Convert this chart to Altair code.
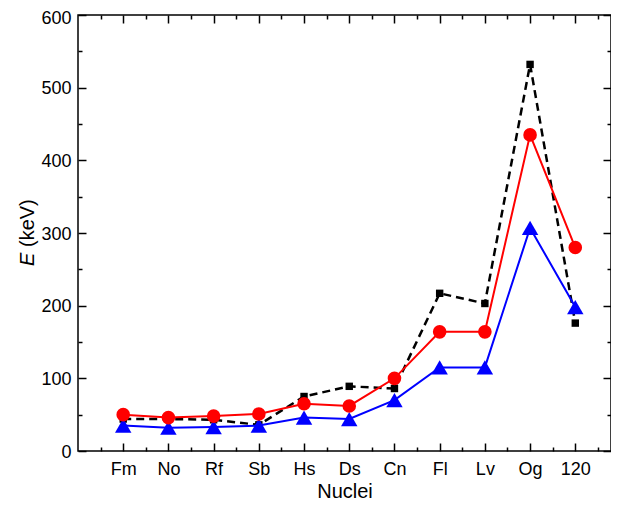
import altair as alt
import pandas as pd

nuclei = ["Fm", "No", "Rf", "Sb", "Hs", "Ds", "Cn", "Fl", "Lv", "Og", "120"]
positions = list(range(1, 12))
black_vals = [44, 44, 43, 36, 75, 89, 86, 217, 203, 532, 176]
red_vals = [50, 46, 48, 51, 65, 62, 100, 164, 164, 435, 280]
blue_vals = [35, 32, 33, 35, 46, 44, 70, 115, 115, 307, 198]
y_major = list(range(0, 601, 100))
y_labels_low = list(range(0, 501, 100))
y_labels_top = [600]
y_minor = list(range(50, 600, 100))
x_minor = [i + 0.5 for i in range(0, 12)]

W, H = 533, 436
XMAX = 11.79
FONT = "Liberation Sans"

df = pd.DataFrame({"pos": positions, "nucleus": nuclei,
                   "black": black_vals, "red": red_vals, "blue": blue_vals})

xs = alt.Scale(domain=[0, XMAX], nice=False, zero=False)
ys = alt.Scale(domain=[0, 600], nice=False, zero=False)

label_expr = "[" + ",".join("'%s'" % n for n in [""] + nuclei + [""]) + "][datum.value]"


def tick_axis(values, orient, offset, size):
    return alt.Axis(values=values, orient=orient, offset=offset, tickSize=size,
                    tickWidth=1.5, tickColor="black", labels=False, domain=False,
                    grid=False, title="")


def ylabel_axis(values, off):
    return alt.Axis(values=values, orient="left", ticks=False, domain=False, grid=False,
                    labelPadding=7, labelOffset=off, labelFontSize=18, labelFont=FONT,
                    labelColor="black", title="")


def axis_layer(xaxis, yaxis):
    return alt.Chart(df).mark_point(opacity=0).encode(
        x=alt.X("pos:Q", scale=xs, axis=xaxis),
        y=alt.Y("black:Q", scale=ys, axis=yaxis),
    )


main_axes = axis_layer(
    alt.Axis(values=positions, labelExpr=label_expr, orient="bottom", ticks=False,
             domain=False, grid=False, labelPadding=9, labelFontSize=18, labelFont=FONT,
             labelColor="black", title="Nuclei", titleFont=FONT, titleFontSize=20,
             titleFontWeight="normal", titleColor="black", titlePadding=3),
    ylabel_axis(y_labels_low, 1),
)
top_label = axis_layer(tick_axis(x_minor, "top", -H, 4), ylabel_axis(y_labels_top, 3))

ticks_a = axis_layer(tick_axis(positions, "top", -H, 8), tick_axis(y_major, "right", -W, 8))
ticks_b = axis_layer(tick_axis(positions, "bottom", -H, 8), tick_axis(y_minor, "right", -W, 4))
ticks_c = axis_layer(tick_axis(x_minor, "bottom", -H, 4), tick_axis(y_major, "left", -W, 8))
ticks_d = alt.Chart(df).mark_point(opacity=0).encode(
    y=alt.Y("black:Q", scale=ys, axis=tick_axis(y_minor, "left", -W, 4)))


def series(field, color, shape, size, width, dash=None):
    lk = dict(color=color, strokeWidth=width)
    if dash:
        lk["strokeDash"] = dash
    enc = dict(x=alt.X("pos:Q", scale=xs, axis=None),
               y=alt.Y(field + ":Q", scale=ys, axis=None))
    line = alt.Chart(df).mark_line(**lk).encode(**enc)
    pts = alt.Chart(df).mark_point(shape=shape, filled=True, color=color, size=size,
                                   opacity=1, strokeWidth=0).encode(**enc)
    return [line, pts]


layers = []
layers += series("black", "black", "square", 55, 2.5, [8, 5])
layers += series("blue", "#0000ff", "triangle-up", 270, 2)
layers += series("red", "#ff0000", "circle", 185, 2)

title_e = alt.Chart(pd.DataFrame({"t": ["E"]})).mark_text(
    angle=270, align="left", baseline="middle", fontSize=20, font=FONT,
    fontStyle="italic", color="black").encode(text="t:N", x=alt.value(-50), y=alt.value(251))
title_u = alt.Chart(pd.DataFrame({"t": ["(keV)"]})).mark_text(
    angle=270, align="left", baseline="middle", fontSize=20, font=FONT,
    color="black").encode(text="t:N", x=alt.value(-50), y=alt.value(232))

chart = alt.layer(main_axes, top_label, ticks_a, ticks_b, ticks_c, ticks_d, *layers,
                  title_e, title_u).resolve_axis(
    x="independent", y="independent"
).properties(
    width=W, height=H,
    autosize=alt.AutoSizeParams(type="none"),
    padding={"left": 70, "top": 7, "right": 0, "bottom": 50},
).configure_view(stroke="black", strokeWidth=1.5)

chart.save("out.html", embed_options={"renderer": "svg", "actions": False})
